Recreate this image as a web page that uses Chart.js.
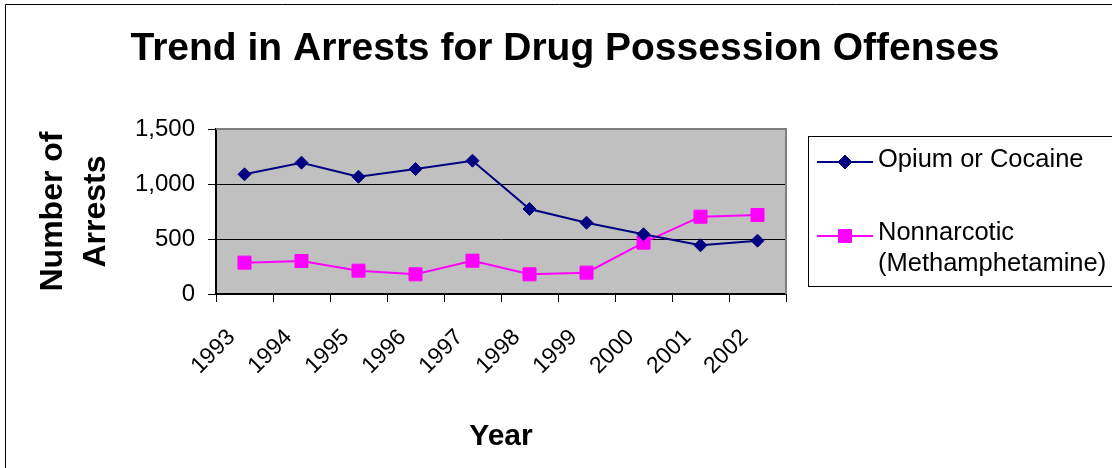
<!DOCTYPE html>
<html>
<head>
<meta charset="utf-8">
<script src="https://cdn.jsdelivr.net/npm/chart.js@4/dist/chart.umd.min.js"></script>
<style>
  html, body { margin: 0; padding: 0; background: #fff; overflow: hidden; }
  #wrap { width: 1112px; height: 468px; position: relative; }
</style>
</head>
<body>
<div id="wrap"><canvas id="c" width="1112" height="468"></canvas></div>
<script>
const chartTitle = 'Trend in Arrests for Drug Possession Offenses';
const years = ['1993','1994','1995','1996','1997','1998','1999','2000','2001','2002'];
const opiumCocaine = [1088, 1194, 1066, 1136, 1212, 773, 648, 543, 443, 485];
const nonnarcotic = [285, 300, 212, 179, 303, 179, 194, 467, 703, 718];
const seriesLabels = ['Opium or Cocaine', ['Nonnarcotic', '(Methamphetamine)']];
const yTickValues = [0, 500, 1000, 1500];
const xTitle = 'Year';
const yTitle = ['Number of', 'Arrests'];

const FONT = "'Liberation Sans', Arial, Helvetica, sans-serif";

const bgPlugin = {
  id: 'bg',
  beforeDraw(chart) {
    const ctx = chart.ctx, a = chart.chartArea;
    ctx.save();
    ctx.fillStyle = '#ffffff';
    ctx.fillRect(0, 0, chart.width, chart.height);
    ctx.fillStyle = '#C0C0C0';
    ctx.fillRect(a.left, a.top, a.right - a.left, a.bottom - a.top);
    ctx.strokeStyle = '#000';
    ctx.lineWidth = 1;
    ctx.beginPath();
    ctx.moveTo(5.5, chart.height + 2);
    ctx.lineTo(5.5, 4.5);
    ctx.lineTo(chart.width + 2, 4.5);
    ctx.stroke();
    ctx.restore();
  },
  beforeDatasetsDraw(chart) {
    const ctx = chart.ctx, a = chart.chartArea;
    ctx.save();
    ctx.strokeStyle = '#808080';
    ctx.lineWidth = 2;
    ctx.beginPath();
    ctx.moveTo(a.left, a.top);
    ctx.lineTo(a.right, a.top);
    ctx.lineTo(a.right, a.bottom);
    ctx.stroke();
    ctx.restore();
  },
  afterDraw(chart) {
    const ctx = chart.ctx;
    ctx.save();
    ctx.fillStyle = '#000';
    ctx.font = "bold 39px " + FONT;
    ctx.textAlign = 'center';
    ctx.textBaseline = 'alphabetic';
    ctx.fillText(chartTitle, 565, 60);
    ctx.strokeStyle = '#000';
    ctx.lineWidth = 1;
    ctx.strokeRect(808.5, 136.5, 400, 150);
    ctx.font = "25.5px " + FONT;
    ctx.textAlign = 'left';
    const rows = [
      { y: 162, baselines: [166.5] },
      { y: 236, baselines: [240, 271] }
    ];
    chart.data.datasets.forEach((ds, i) => {
      const r = rows[i];
      ctx.strokeStyle = ds.borderColor;
      ctx.lineWidth = 2;
      ctx.beginPath();
      ctx.moveTo(817, r.y);
      ctx.lineTo(873, r.y);
      ctx.stroke();
      ctx.fillStyle = ds.pointBackgroundColor;
      ctx.strokeStyle = ds.pointBorderColor;
      ctx.lineWidth = 1;
      ctx.beginPath();
      if (ds.pointStyle === 'rectRot') {
        const rr = 7;
        ctx.moveTo(845, r.y - rr); ctx.lineTo(845 + rr, r.y);
        ctx.lineTo(845, r.y + rr); ctx.lineTo(845 - rr, r.y); ctx.closePath();
      } else {
        ctx.rect(845 - 6.5, r.y - 6.5, 13, 13);
      }
      ctx.fill(); ctx.stroke();
      const lbl = seriesLabels[i];
      const lines = Array.isArray(lbl) ? lbl : [lbl];
      ctx.fillStyle = '#000';
      lines.forEach((t, k) => ctx.fillText(t, 878, r.baselines[k]));
    });
    ctx.restore();
  }
};

new Chart(document.getElementById('c'), {
  type: 'line',
  data: {
    labels: years,
    datasets: [
      {
        label: 'Opium or Cocaine',
        data: opiumCocaine,
        borderColor: '#000080',
        backgroundColor: '#000080',
        pointBackgroundColor: '#000080',
        pointBorderColor: '#000080',
        borderWidth: 2,
        pointStyle: 'rectRot',
        pointRadius: 6.5,
        pointBorderWidth: 1,
        tension: 0,
        fill: false
      },
      {
        label: 'Nonnarcotic (Methamphetamine)',
        data: nonnarcotic,
        borderColor: '#FF00FF',
        backgroundColor: '#FF00FF',
        pointBackgroundColor: '#FF00FF',
        pointBorderColor: '#FF00FF',
        borderWidth: 2,
        pointStyle: 'rect',
        pointRadius: 9.2,
        pointBorderWidth: 1,
        tension: 0,
        fill: false
      }
    ]
  },
  options: {
    responsive: false,
    animation: false,
    devicePixelRatio: 1,
    layout: { padding: { left: 0, right: 326, top: 129, bottom: 0 } },
    plugins: {
      legend: { display: false },
      title: { display: false },
      tooltip: { enabled: false }
    },
    scales: {
      x: {
        type: 'category',
        offset: true,
        afterFit(scale) { scale.height = 174; },
        grid: {
          offset: true,
          drawOnChartArea: false,
          drawTicks: true,
          tickLength: 8,
          tickColor: '#000',
          tickWidth: 1
        },
        border: { display: true, color: '#000', width: 2 },
        ticks: {
          autoSkip: false,
          minRotation: 45,
          maxRotation: 45,
          padding: 22,
          labelOffset: -13,
          color: '#000',
          font: { family: FONT, size: 23 }
        },
        title: {
          display: true,
          text: xTitle,
          color: '#000',
          font: { family: FONT, size: 30, weight: 'bold', lineHeight: 1.2 },
          padding: { top: 0, bottom: 13 }
        }
      },
      y: {
        min: 0,
        max: 1500,
        afterFit(scale) { scale.width = 216; },
        afterBuildTicks(scale) { scale.ticks = yTickValues.map(v => ({ value: v })); },
        grid: {
          drawTicks: true,
          tickLength: 8,
          tickColor: '#000',
          tickWidth: 1,
          lineWidth: 1,
          color: (c) => (c.tick && (c.tick.value === 0 || c.tick.value === 1500)) ? 'rgba(0,0,0,0)' : '#000'
        },
        border: { display: true, color: '#000', width: 2 },
        ticks: {
          padding: 13,
          color: '#000',
          font: { family: FONT, size: 24 },
          callback: (v) => Number(v).toLocaleString('en-US')
        },
        title: {
          display: true,
          text: yTitle,
          color: '#000',
          font: { family: FONT, size: 32, weight: 'bold', lineHeight: 1.344 },
          padding: { top: 31.5, bottom: 0 }
        }
      }
    }
  },
  plugins: [bgPlugin]
});
</script>
</body>
</html>
